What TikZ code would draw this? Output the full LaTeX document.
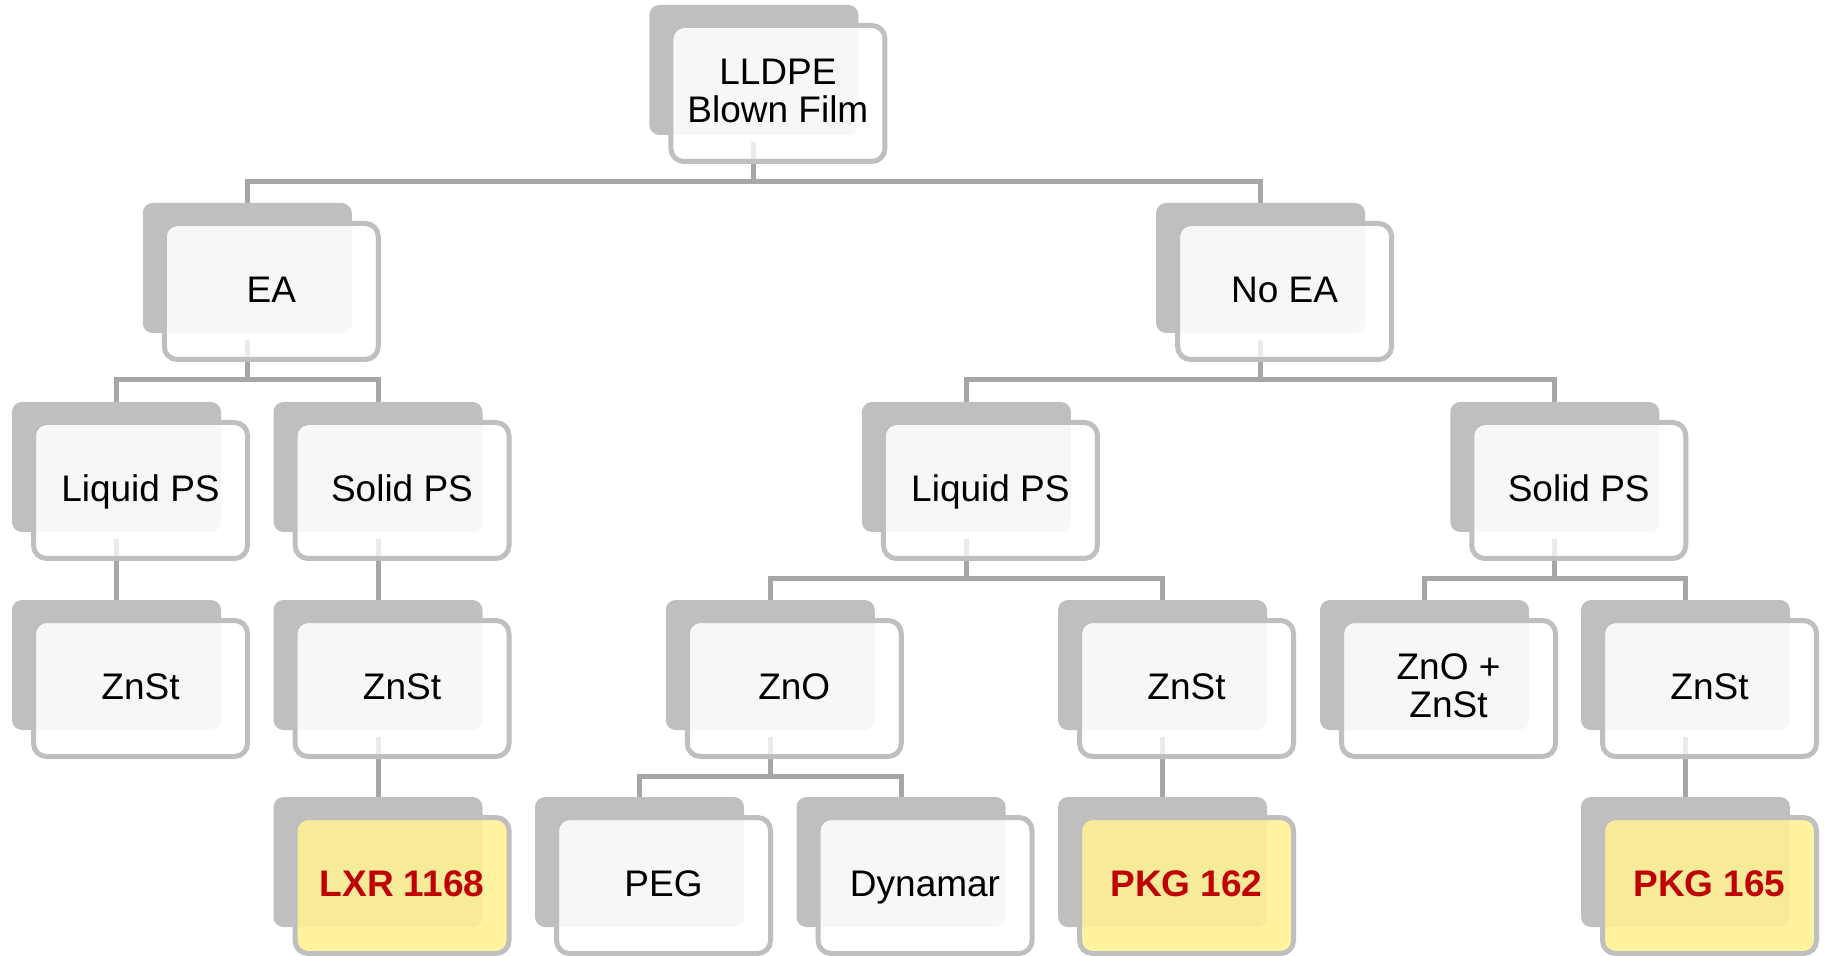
\documentclass[tikz,border=0pt]{standalone}
\usepackage{fontspec}
\setmainfont{Liberation Sans}
\usetikzlibrary{backgrounds}
\definecolor{backgray}{HTML}{BFBFBF}
\definecolor{linegray}{HTML}{A6A6A6}
\definecolor{stubgray}{HTML}{EAEAEA}
\definecolor{hlyellow}{HTML}{FFF3A0}
\definecolor{hlred}{HTML}{C00000}
\tikzset{
  backbox/.style={fill=backgray, rounded corners=5pt, minimum width=104.5pt, minimum height=65pt, inner sep=0pt, outer sep=0pt},
  frontbox/.style={draw=backgray, line width=2.5pt, rounded corners=6.5pt, minimum width=107pt, minimum height=68pt, inner sep=0pt, outer sep=0pt},
  front-plain/.style={fill=white},
  front-hl/.style={fill=hlyellow},
  labelbase/.style={inner sep=0pt, outer sep=0pt, font=\fontsize{18.5pt}{19pt}\selectfont, align=center},
  oneline/.style={text height=13.25pt, text depth=0pt},
  label-plain/.style={labelbase, text=black},
  label-hl/.style={labelbase, text=hlred, font=\fontsize{18.5pt}{19pt}\selectfont\bfseries},
  conn/.style={draw=linegray, line width=2.5pt},
  stub/.style={draw=stubgray, line width=2.5pt}
}
% #1 name, #2 left, #3 top (pixels), #4 text, #5 front style, #6 label style
\newcommand\orgbox[6]{%
  \node[backbox] (#1) at ({#2+104.5},{#3+65}) {};
  \node[frontbox,#5] (#1f) at ({#2+128.5},{#3+88.5}) {};
  \begin{scope}
    \clip[rounded corners=4pt] ({#2+24},{#3+23}) rectangle ({#2+233},{#3+154});
    \fill[black,opacity=0.03,rounded corners=5pt] (#2,#3) rectangle ({#2+209},{#3+130});
  \end{scope}
  \node[#6] (#1t) at ({#2+128.5},{#3+86}) {#4};
}
\begin{document}
\begin{tikzpicture}[x=0.5pt,y=-0.5pt]
\useasboundingbox (0,0) rectangle (1825,956);
% level 1
\orgbox{root}{649.4}{5}{LLDPE\\Blown Film}{front-plain}{label-plain}
% level 2
\orgbox{ea}{142.75}{203}{EA}{front-plain}{label-plain,oneline}
\orgbox{noea}{1156.1}{203}{No EA}{front-plain}{label-plain,oneline}
% level 3
\orgbox{lpsa}{12}{402}{Liquid PS}{front-plain}{label-plain,oneline}
\orgbox{spsa}{273.5}{402}{Solid PS}{front-plain}{label-plain,oneline}
\orgbox{lpsb}{861.9}{402}{Liquid PS}{front-plain}{label-plain,oneline}
\orgbox{spsb}{1450.25}{402}{Solid PS}{front-plain}{label-plain,oneline}
% level 4
\orgbox{znsta}{12}{600}{ZnSt}{front-plain}{label-plain,oneline}
\orgbox{znstb}{273.5}{600}{ZnSt}{front-plain}{label-plain,oneline}
\orgbox{zno}{665.75}{600}{ZnO}{front-plain}{label-plain,oneline}
\orgbox{znstc}{1058}{600}{ZnSt}{front-plain}{label-plain,oneline}
\orgbox{znoznst}{1320}{600}{ZnO +\\ZnSt}{front-plain}{label-plain}
\orgbox{znstd}{1581}{600}{ZnSt}{front-plain}{label-plain,oneline}
% level 5
\orgbox{lxr}{273.5}{797}{LXR 1168}{front-hl}{label-hl,oneline}
\orgbox{peg}{535}{797}{PEG}{front-plain}{label-plain,oneline}
\orgbox{dyn}{796.5}{797}{Dynamar}{front-plain}{label-plain,oneline}
\orgbox{pkga}{1058}{797}{PKG 162}{front-hl}{label-hl,oneline}
\orgbox{pkgb}{1581}{797}{PKG 165}{front-hl}{label-hl,oneline}
% connectors
\begin{scope}[on background layer]
\foreach \p/\c in {root/ea, root/noea, ea/lpsa, ea/spsa, noea/lpsb, noea/spsb,
  lpsa/znsta, spsa/znstb, lpsb/zno, lpsb/znstc, spsb/znoznst, spsb/znstd,
  znstb/lxr, zno/peg, zno/dyn, znstc/pkga, znstd/pkgb}
  \draw[conn] (\p.south) -- ++(0,46.5) -| (\c.north);
\end{scope}
% light stubs inside the parents' front boxes
\foreach \p in {root, ea, noea, lpsa, spsa, lpsb, spsb, znstb, zno, znstc, znstd}
  \draw[stub] (\p.south) ++(0,7) -- ++(0,17);
\end{tikzpicture}
\end{document}
